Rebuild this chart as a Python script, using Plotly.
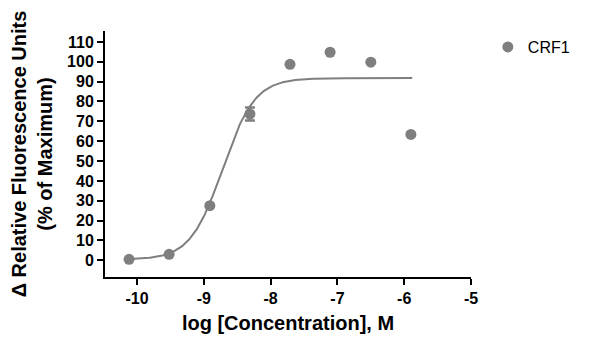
import numpy as np
import plotly.graph_objects as go

# Data
log_conc = [-10.12, -9.52, -8.91, -8.31, -7.71, -7.11, -6.50, -5.90]
response = [0.5, 3.0, 27.5, 73.7, 98.7, 104.8, 99.8, 63.4]
resp_err = [0, 0, 0, 3.3, 0, 0, 0, 0]

# Fitted 4-parameter logistic curve parameters (estimated from the drawn fit)
fit_bottom = 0.3
fit_top = 91.8
fit_logec50 = -8.72
fit_hill = 1.8
fit_x_start = -10.15
fit_x_end = -5.88

x_ticks = [-10, -9, -8, -7, -6, -5]
y_ticks = list(range(0, 111, 10))

xf = np.linspace(fit_x_start, fit_x_end, 300)
yf = fit_bottom + (fit_top - fit_bottom) / (1 + 10 ** ((fit_logec50 - xf) * fit_hill))

grey = "#7f7f7f"
font_family = "Arial, Liberation Sans, sans-serif"

fig = go.Figure()
fig.add_trace(go.Scatter(x=xf, y=yf, mode="lines", line=dict(color=grey, width=2),
                         showlegend=False, hoverinfo="skip"))
fig.add_trace(go.Scatter(x=log_conc, y=response, mode="markers", name="CRF1",
                         marker=dict(color=grey, size=11),
                         error_y=dict(type="data", array=resp_err, visible=True,
                                      color=grey, thickness=2.5, width=5)))

fig.update_layout(
    width=600, height=359,
    margin=dict(l=97, r=137, t=23, b=90),
    paper_bgcolor="white", plot_bgcolor="white",
    font=dict(family=font_family, color="black"),
    legend=dict(x=1.046, y=0.935, xanchor="left", yanchor="middle",
                font=dict(size=16, family=font_family, color="black"),
                bgcolor="rgba(0,0,0,0)"),
    xaxis=dict(range=[-10.48, -5.0], tickvals=x_ticks, ticktext=[str(t) for t in x_ticks],
               showline=True, linecolor="black", linewidth=2, ticks="outside",
               ticklen=6, tickwidth=2, tickcolor="black", showgrid=False, zeroline=False,
               automargin=False,
               tickfont=dict(size=16, family=font_family, weight="bold"),
               title=dict(text="<b>log [Concentration], M</b>", font=dict(size=20), standoff=10)),
    yaxis=dict(range=[-8.4, 115.5], tickvals=y_ticks, ticktext=[str(t) for t in y_ticks],
               showline=True, linecolor="black", linewidth=2, ticks="outside",
               ticklen=6, tickwidth=2, tickcolor="black", showgrid=False, zeroline=False,
               automargin=False,
               tickfont=dict(size=16, family=font_family, weight="bold"),
               title=dict(text="<b>Δ Relative Fluorescence Units<br>(% of Maximum)</b>",
                          font=dict(size=20), standoff=11)),
)

fig.write_html("out.html")
